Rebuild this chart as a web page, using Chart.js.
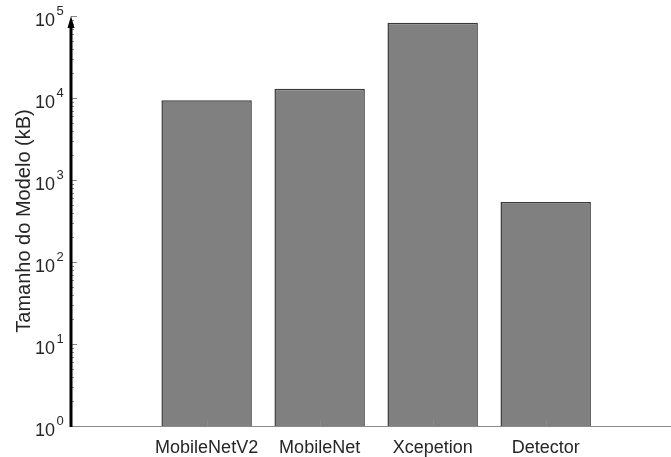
<!DOCTYPE html>
<html>
<head>
<meta charset="utf-8">
<script src="https://cdn.jsdelivr.net/npm/chart.js@4/dist/chart.umd.min.js"></script>
<style>
  html, body { margin: 0; padding: 0; background: #fff; }
  #chart { display: block; }
</style>
</head>
<body>
<canvas id="chart" width="671" height="457"></canvas>
<script>
'use strict';

// data (model size in kB, log axis)
const categories = ['MobileNetV2', 'MobileNet', 'Xcepetion', 'Detector'];
const modelSizeKB = [9400, 13000, 82600, 541];
const yExponents = [0, 1, 2, 3, 4, 5];
const yTitle = 'Tamanho do Modelo (kB)';

const TEXT = '#262626';
const TICK = '#8a8a8a';
const FONT = '"Liberation Sans", Arial, Helvetica, sans-serif';

// MATLAB-ish axis: thick arrow on y, inward ticks, 10^n labels
const axisDecor = {
  id: 'axisDecor',
  afterDatasetsDraw(chart) {
    const ctx = chart.ctx;
    const x = chart.scales.x;
    const bottom = chart.chartArea.bottom;
    ctx.save();
    ctx.strokeStyle = TICK;
    ctx.lineWidth = 1;
    x.ticks.forEach(function (t) {
      const px = Math.round(x.getPixelForValue(t.value)) + 0.5;
      ctx.beginPath();
      ctx.moveTo(px, bottom);
      ctx.lineTo(px, bottom - 6);
      ctx.stroke();
    });
    ctx.restore();
  },
  afterDraw(chart) {
    const ctx = chart.ctx;
    const y = chart.scales.y;
    const area = chart.chartArea;
    const ax = area.left;
    ctx.save();

    // ticks, right of the axis
    ctx.strokeStyle = TICK;
    ctx.lineWidth = 1;
    yExponents.forEach(function (e) {
      const base = Math.pow(10, e);
      const py = Math.round(y.getPixelForValue(base)) + 0.5;
      ctx.beginPath();
      ctx.moveTo(ax, py);
      ctx.lineTo(ax + 6, py);
      ctx.stroke();
      if (e === yExponents[yExponents.length - 1]) return;
      for (let m = 2; m <= 9; m++) {
        const my = Math.round(y.getPixelForValue(m * base)) + 0.5;
        ctx.beginPath();
        ctx.moveTo(ax, my);
        ctx.lineTo(ax + 3, my);
        ctx.stroke();
      }
    });

    // labels 10^n
    ctx.fillStyle = TEXT;
    yExponents.forEach(function (e) {
      const py = y.getPixelForValue(Math.pow(10, e));
      ctx.font = '18px ' + FONT;
      ctx.textAlign = 'right';
      ctx.textBaseline = 'alphabetic';
      ctx.fillText('10', ax - 16, py + 10);
      ctx.font = '13px ' + FONT;
      ctx.textAlign = 'left';
      ctx.fillText(String(e), ax - 14.5, py - 1.5);
    });

    // thick black axis with arrow head
    ctx.strokeStyle = '#000';
    ctx.fillStyle = '#000';
    ctx.lineWidth = 3;
    ctx.beginPath();
    ctx.moveTo(ax, area.bottom + 1);
    ctx.lineTo(ax, area.top + 10);
    ctx.stroke();
    ctx.beginPath();
    ctx.moveTo(ax, area.top);
    ctx.lineTo(ax - 3.5, area.top + 12);
    ctx.lineTo(ax + 3.5, area.top + 12);
    ctx.closePath();
    ctx.fill();
    ctx.restore();
  }
};

new Chart(document.getElementById('chart'), {
  type: 'bar',
  data: {
    datasets: [{
      data: categories.map(function (c, i) { return { x: i + 1, y: modelSizeKB[i] }; }),
      backgroundColor: '#808080',
      borderColor: '#3a3a3a',
      borderWidth: 1.5,
      borderSkipped: 'start',
      categoryPercentage: 1.0,
      barPercentage: 0.8
    }]
  },
  options: {
    responsive: false,
    animation: false,
    layout: { padding: { top: 16, right: 1, left: 0, bottom: 0 } },
    plugins: {
      legend: { display: false },
      tooltip: { enabled: false }
    },
    scales: {
      x: {
        type: 'linear',
        min: -0.2,
        max: 5.1,
        offset: false,
        grid: { display: false, drawTicks: false },
        border: { display: true, color: TICK, width: 1 },
        afterBuildTicks: function (scale) {
          scale.ticks = categories.map(function (c, i) { return { value: i + 1 }; });
        },
        ticks: {
          autoSkip: false,
          maxRotation: 0,
          padding: 11,
          color: TEXT,
          font: { family: FONT, size: 18 },
          callback: function (v) { return categories[v - 1]; }
        },
        afterFit: function (scale) { scale.height = 31; }
      },
      y: {
        type: 'logarithmic',
        min: 1,
        max: 100000,
        grid: { display: false, drawTicks: false },
        border: { display: false },
        ticks: { display: false },
        title: {
          display: true,
          text: yTitle,
          color: TEXT,
          font: { family: FONT, size: 20 },
          padding: { top: 12, bottom: 0 }
        },
        afterFit: function (scale) { scale.width = 71; }
      }
    }
  },
  plugins: [axisDecor]
});
</script>
</body>
</html>
